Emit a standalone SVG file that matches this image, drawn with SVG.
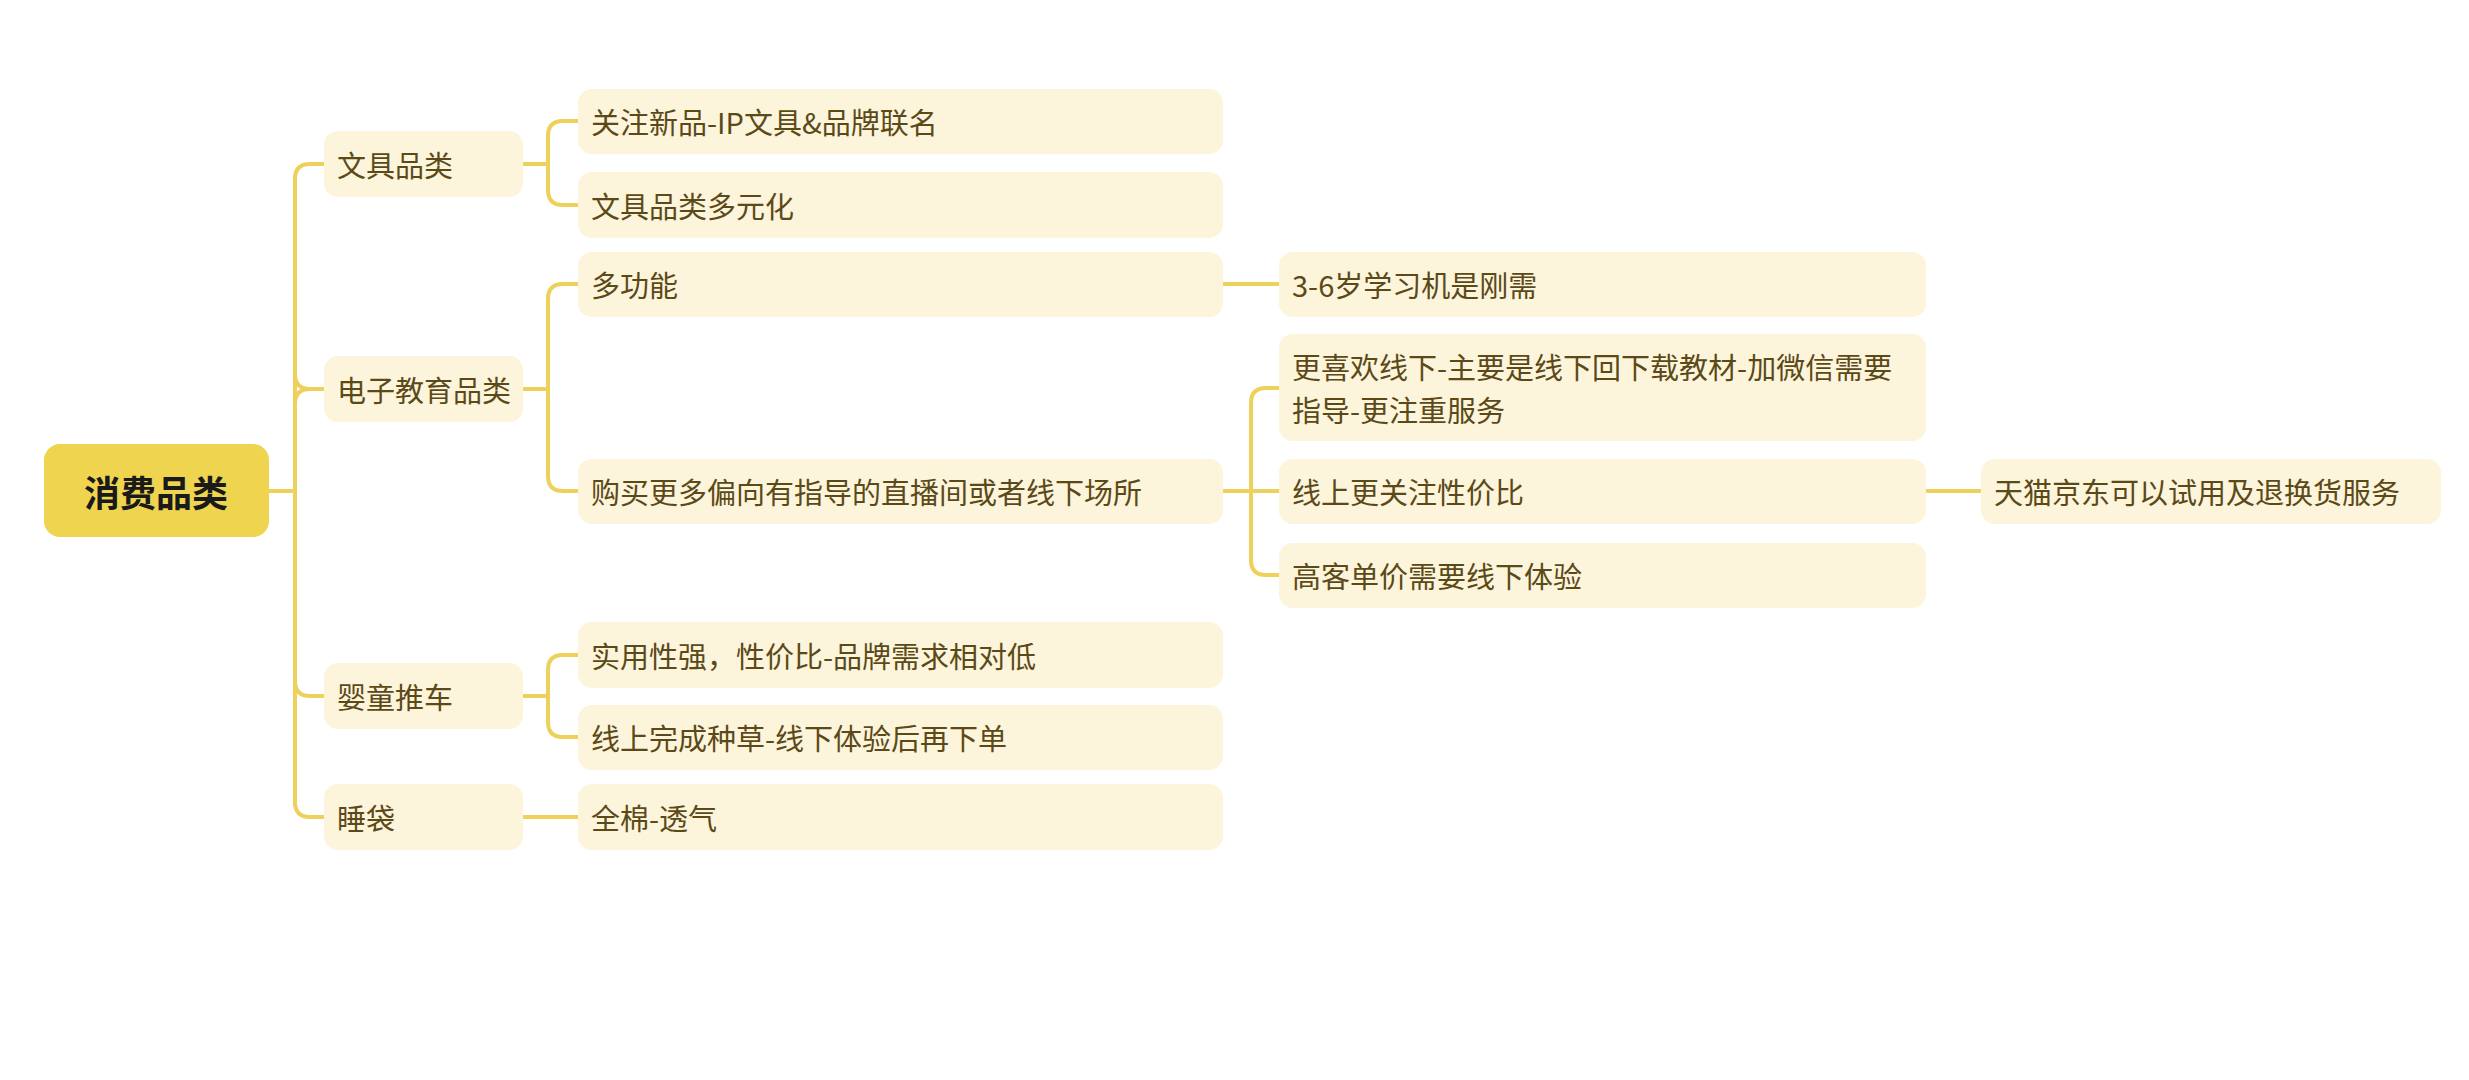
<svg xmlns="http://www.w3.org/2000/svg" width="2469" height="1080" viewBox="0 0 2469 1080">
<style>
.n rect{fill:#FDF4DC}
.n text{font-family:"Noto Sans CJK SC","Liberation Sans",sans-serif;font-size:29px;fill:#5B4A17;dominant-baseline:central}
.r rect{fill:#EFD44F}
.r text{font-family:"Noto Sans CJK SC","Liberation Sans",sans-serif;font-size:36px;font-weight:bold;fill:#1a1a1a;dominant-baseline:central;text-anchor:middle}
.c path{fill:none;stroke:#EDD15B;stroke-width:4}
</style>
<rect width="2469" height="1080" fill="#fff"/>
<g class="c">
<path d="M269 491 H295 M295 179 V806"/>
<path d="M295 179 Q295 164 310 164 H324"/>
<path d="M295 374 Q295 389 310 389 H324 M295 404 Q295 389 310 389"/>
<path d="M295 681 Q295 696 310 696 H324"/>
<path d="M295 802 Q295 817 310 817 H324"/>
<path d="M523 164 H548 M548 136 V190 M548 136 Q548 121 563 121 H578 M548 190 Q548 205 563 205 H578"/>
<path d="M523 389 H548 M548 299 V476 M548 299 Q548 284 563 284 H578 M548 476 Q548 491 563 491 H578"/>
<path d="M523 696 H548 M548 670 V722 M548 670 Q548 655 563 655 H578 M548 722 Q548 737 563 737 H578"/>
<path d="M523 817 H578"/>
<path d="M1223 284 H1279"/>
<path d="M1223 491 H1279 M1251 403 V560 M1251 403 Q1251 388 1266 388 H1279 M1251 560 Q1251 575 1266 575 H1279"/>
<path d="M1926 491 H1981"/>
</g>
<g id="root" class="r"><rect x="44" y="444" width="225" height="93" rx="16"/><text x="156" y="491">消费品类</text></g>
<g id="n1" class="n"><rect x="324" y="131" width="199" height="66" rx="14"/><text x="337" y="164">文具品类</text></g>
<g id="n2" class="n"><rect x="324" y="356" width="199" height="66" rx="14"/><text x="337" y="389">电子教育品类</text></g>
<g id="n3" class="n"><rect x="324" y="663" width="199" height="66" rx="14"/><text x="337" y="696">婴童推车</text></g>
<g id="n4" class="n"><rect x="324" y="784" width="199" height="66" rx="14"/><text x="337" y="817">睡袋</text></g>
<g id="n11" class="n"><rect x="578" y="89" width="645" height="65" rx="14"/><text x="591" y="121">关注新品-IP文具&amp;品牌联名</text></g>
<g id="n12" class="n"><rect x="578" y="172" width="645" height="66" rx="14"/><text x="591" y="205">文具品类多元化</text></g>
<g id="n21" class="n"><rect x="578" y="252" width="645" height="65" rx="14"/><text x="591" y="284">多功能</text></g>
<g id="n22" class="n"><rect x="578" y="459" width="645" height="65" rx="14"/><text x="591" y="491">购买更多偏向有指导的直播间或者线下场所</text></g>
<g id="n31" class="n"><rect x="578" y="622" width="645" height="66" rx="14"/><text x="591" y="655">实用性强，性价比-品牌需求相对低</text></g>
<g id="n32" class="n"><rect x="578" y="705" width="645" height="65" rx="14"/><text x="591" y="737">线上完成种草-线下体验后再下单</text></g>
<g id="n41" class="n"><rect x="578" y="784" width="645" height="66" rx="14"/><text x="591" y="817">全棉-透气</text></g>
<g id="n211" class="n"><rect x="1279" y="252" width="647" height="65" rx="14"/><text x="1292" y="284">3-6岁学习机是刚需</text></g>
<g id="n221" class="n"><rect x="1279" y="334" width="647" height="107" rx="14"/><text x="1292" y="366">更喜欢线下-主要是线下回下载教材-加微信需要</text><text x="1292" y="409">指导-更注重服务</text></g>
<g id="n222" class="n"><rect x="1279" y="459" width="647" height="65" rx="14"/><text x="1292" y="491">线上更关注性价比</text></g>
<g id="n223" class="n"><rect x="1279" y="543" width="647" height="65" rx="14"/><text x="1292" y="575">高客单价需要线下体验</text></g>
<g id="n2221" class="n"><rect x="1981" y="459" width="460" height="65" rx="14"/><text x="1994" y="491">天猫京东可以试用及退换货服务</text></g>
</svg>
